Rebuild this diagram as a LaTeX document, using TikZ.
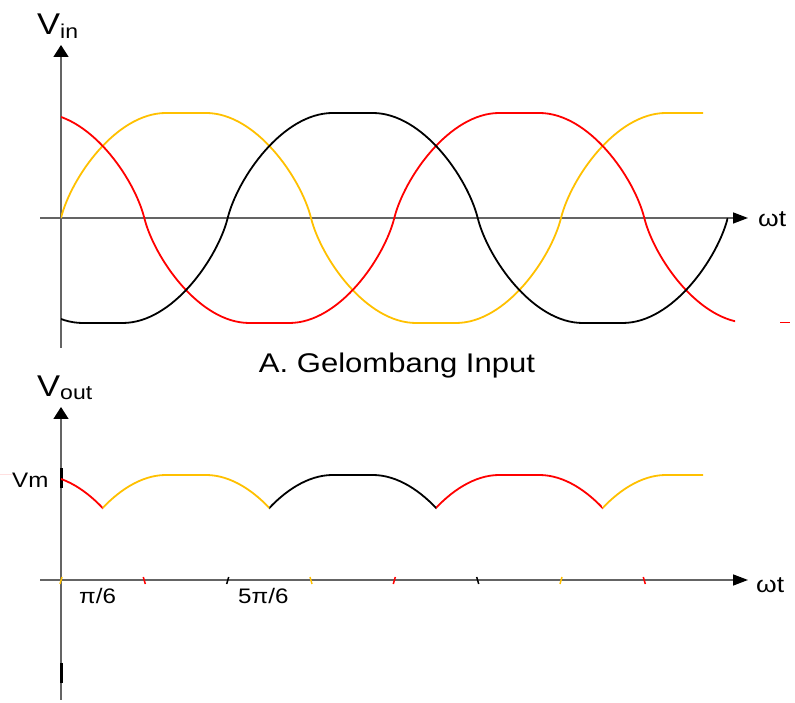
\documentclass[tikz,border=0pt]{standalone}
\usepackage{fontspec}
\setmainfont{Liberation Sans}
\usetikzlibrary{arrows.meta}
\definecolor{phaseR}{RGB}{255,0,0}
\definecolor{phaseY}{RGB}{255,192,0}
\definecolor{phaseB}{RGB}{0,0,0}
\definecolor{axisgray}{RGB}{100,100,100}
\newcommand{\WideText}[1]{\scalebox{1.15}[1]{#1}}
% one period of the flat-topped phase wave, drawn on from the current point
\newcommand{\WavePeriod}{%
    .. controls +(10,40) and +(-50,0) .. ++(105,105) -- ++(40,0)
    .. controls +(50,0) and +(-10,40) .. ++(105,-105)
    .. controls +(10,-40) and +(-50,0) .. ++(105,-105) -- ++(40,0)
    .. controls +(50,0) and +(-10,-40) .. ++(105,105)%
}

\begin{document}
\begin{tikzpicture}[x=1pt, y=1pt,
    axis/.style={draw=axisgray, line width=1.5pt},
    uparrow/.style={-{Triangle[length=12pt,width=15pt,black]}},
    rightarrow/.style={-{Triangle[length=15pt,width=11pt,black]}},
    wave/.style={line width=1.8pt},
    bigV/.style={font=\fontsize{30}{36}\selectfont, inner sep=0pt, anchor=base west},
    lbl/.style={font=\fontsize{23}{27}\selectfont, inner sep=0pt, anchor=base west},
    tick/.style={font=\fontsize{21}{25}\selectfont, inner sep=0pt, anchor=base west}]
    \useasboundingbox (0,0) rectangle (795,703);

    % A: input waves, origin on the axes crossing
    \begin{scope}[shift={(61,485)}]
        \coordinate (inYbot)   at (0,-130);
        \coordinate (inYtop)   at (0,173);
        \coordinate (inXleft)  at (-21,0);
        \coordinate (inXright) at (687,0);
        \draw[axis, uparrow]    (inYbot) -- (inYtop);
        \draw[axis, rightarrow] (inXleft) -- (inXright);

        \begin{scope}
            \clip (0,-120) rectangle (642,120);
            \draw[wave, phaseY] (0,0) \WavePeriod \WavePeriod;
        \end{scope}
        \begin{scope}
            \clip (0,-120) rectangle (674,120);
            \draw[wave, phaseR] (-166.7,0) \WavePeriod \WavePeriod;
        \end{scope}
        \begin{scope}
            \clip (0,-120) rectangle (667,120);
            \draw[wave, phaseB] (-333.3,0) \WavePeriod \WavePeriod;
        \end{scope}
        \coordinate (dashL) at (719,-105);
        \coordinate (dashR) at (729,-105);
        \draw[phaseR, line width=1pt] (dashL) -- (dashR);
    \end{scope}

    \node[bigV] (vin) at (37,668) {\WideText{V\raisebox{-4pt}{\fontsize{20}{24}\selectfont in}}};
    \node[lbl] (wtin) at (758,476) {\WideText{ωt}};
    \node[font=\fontsize{27}{31}\selectfont, inner sep=0pt, anchor=base] (caption) at (397,330) {\WideText{A. Gelombang Input}};

    % output of the rectifier
    \begin{scope}[shift={(61,123)}]
        \coordinate (outYbot)   at (0,-120);
        \coordinate (outYtop)   at (0,173);
        \coordinate (outXleft)  at (-21,0);
        \coordinate (outXright) at (687,0);
        \draw[axis, uparrow]    (outYbot) -- (outYtop);
        \draw[axis, rightarrow] (outXleft) -- (outXright);
        \draw[black, line width=3pt] (0,92) -- (0,112);
        \draw[black, line width=3pt] (0,-83) -- (0,-103);
        \draw[phaseR!12, line width=0.6pt] (-61,106) -- (-47,106);

        % zero crossings of the three phases
        \foreach \x/\c/\d in {0/phaseY/1, 83.3/phaseR/-1, 166.7/phaseB/1, 250/phaseY/-1,
                              333.3/phaseR/1, 416.7/phaseB/-1, 500/phaseY/1, 583.3/phaseR/-1}
            \draw[\c, line width=1.5pt, shift={(\x,0)}, xscale=\d] (-1,-4) -- (1,3);

        \begin{scope}
            \clip (41.7,0) rectangle (208.3,120) (541.7,0) rectangle (642,120);
            \draw[wave, phaseY] (0,0) \WavePeriod \WavePeriod;
        \end{scope}
        \begin{scope}
            \clip (0,0) rectangle (41.7,120) (375,0) rectangle (541.7,120);
            \draw[wave, phaseR] (-166.7,0) \WavePeriod \WavePeriod;
        \end{scope}
        \begin{scope}
            \clip (208.3,0) rectangle (375,120);
            \draw[wave, phaseB] (-333.3,0) \WavePeriod \WavePeriod;
        \end{scope}
    \end{scope}

    \node[bigV] (vout) at (37,306) {\WideText{V\raisebox{-3pt}{\fontsize{20}{24}\selectfont out}}};
    \node[lbl] (wtout) at (756,110) {\WideText{ωt}};
    \node[tick] (vm) at (12,215) {\WideText{Vm}};
    \node[tick] (pi6) at (79,99) {\WideText{π/6}};
    \node[tick] (fivepi6) at (238,99) {\WideText{5π/6}};
\end{tikzpicture}
\end{document}
